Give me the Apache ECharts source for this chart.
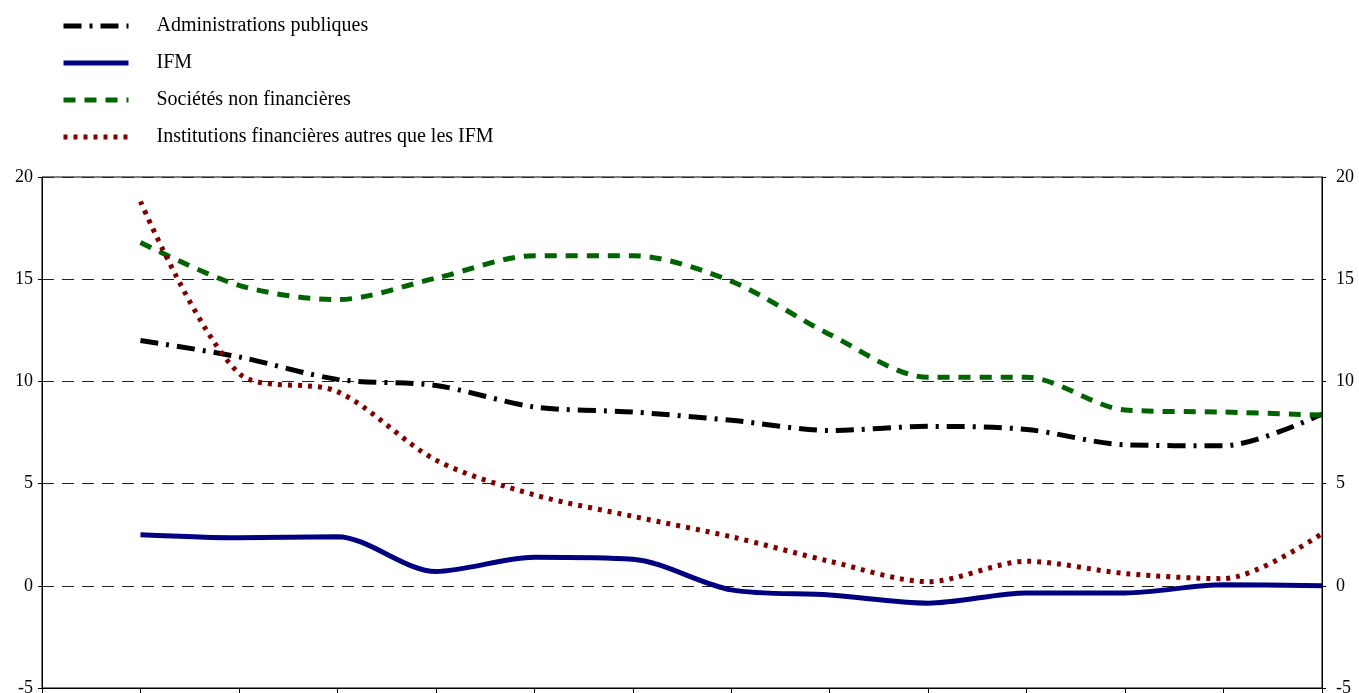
<!DOCTYPE html>
<html>
<head>
<meta charset="utf-8">
<script src="https://cdn.jsdelivr.net/npm/echarts@6/dist/echarts.min.js"></script>
<style>
  html, body { margin: 0; padding: 0; background: #fff; }
  #chart { width: 1359px; height: 693px; }
</style>
</head>
<body>
<div id="chart"></div>
<script>
// periods (first slot is the empty left edge of the axis)
var periods = ['', 'P1', 'P2', 'P3', 'P4', 'P5', 'P6', 'P7', 'P8', 'P9', 'P10', 'P11', 'P12', 'P13'];

var adminPub = [null, 12.0, 11.2, 10.1, 9.8, 8.75, 8.5, 8.1, 7.6, 7.8, 7.65, 6.9, 6.85, 8.4];
var ifm = [null, 2.5, 2.35, 2.4, 0.7, 1.4, 1.3, -0.2, -0.45, -0.85, -0.35, -0.35, 0.05, 0.0];
var snf = [null, 16.8, 14.7, 14.0, 15.05, 16.15, 16.15, 14.9, 12.3, 10.2, 10.2, 8.6, 8.5, 8.35];
var ifAutres = [null, 18.8, 10.4, 9.5, 6.15, 4.45, 3.4, 2.4, 1.2, 0.2, 1.2, 0.6, 0.35, 2.55];

var yTicks = { min: -5, max: 20, interval: 5 };

var font = 'Liberation Serif, Times New Roman, serif';

var myChart = echarts.init(document.getElementById('chart'));

function yAxis(pos) {
    return {
        type: 'value',
        position: pos,
        min: yTicks.min,
        max: yTicks.max,
        interval: yTicks.interval,
        axisLine: { show: true, lineStyle: { color: '#000', width: 1 } },
        axisTick: { show: true, length: 4, lineStyle: { color: '#000' } },
        axisLabel: {
            color: '#000',
            fontFamily: font,
            fontSize: 18,
            margin: pos === 'left' ? 9 : 14
        },
        splitLine: {
            show: pos === 'left',
            lineStyle: { color: '#222', width: 1, type: [12, 8] }
        }
    };
}

myChart.setOption({
    backgroundColor: '#fff',
    animation: false,
    legend: {
        orient: 'vertical',
        left: 61,
        top: 15,
        padding: 0,
        itemWidth: 65,
        itemHeight: 14,
        itemGap: 15,
        lineStyle: { width: 5 },
        itemStyle: { opacity: 0, borderWidth: 0 },
        textStyle: {
            color: '#000',
            fontFamily: font,
            fontSize: 20,
            lineHeight: 22,
            padding: [0, 0, 0, 23]
        },
        data: ['Administrations publiques', 'IFM', 'Sociétés non financières',
               'Institutions financières autres que les IFM']
    },
    grid: {
        left: 42,
        right: 37,
        top: 177,
        bottom: 5,
        show: true,
        borderColor: '#000',
        borderWidth: 1,
        outerBoundsMode: 'none'
    },
    xAxis: {
        type: 'category',
        data: periods,
        boundaryGap: false,
        axisLine: { show: true, onZero: false, lineStyle: { color: '#000', width: 1 } },
        axisTick: { show: true, interval: 0, length: 6, lineStyle: { color: '#000' } },
        axisLabel: { show: false },
        splitLine: { show: false }
    },
    yAxis: [yAxis('left'), yAxis('right')],
    series: [{
        name: 'Administrations publiques',
        type: 'line',
        data: adminPub,
        symbol: 'none',
        smooth: 0.3,
        lineStyle: { color: '#000', width: 5, type: [18, 8, 3, 8] },
        itemStyle: { color: '#000' }
    }, {
        name: 'IFM',
        type: 'line',
        data: ifm,
        symbol: 'none',
        smooth: 0.3,
        lineStyle: { color: '#000080', width: 5, type: 'solid' },
        itemStyle: { color: '#000080' }
    }, {
        name: 'Sociétés non financières',
        type: 'line',
        data: snf,
        symbol: 'none',
        smooth: 0.3,
        lineStyle: { color: '#006400', width: 5, type: [12, 9] },
        itemStyle: { color: '#006400' }
    }, {
        name: 'Institutions financières autres que les IFM',
        type: 'line',
        data: ifAutres,
        symbol: 'none',
        smooth: 0.3,
        lineStyle: { color: '#800000', width: 5, type: [4, 6] },
        itemStyle: { color: '#800000' }
    }]
});
</script>
</body>
</html>
